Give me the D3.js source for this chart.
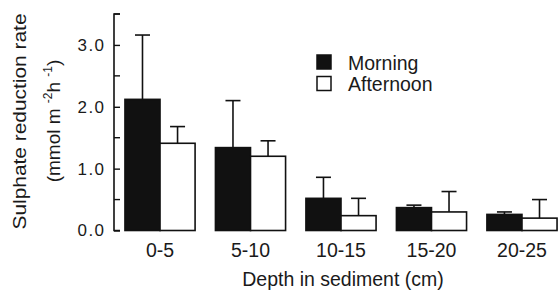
<!DOCTYPE html>
<html lang="en">
<head>
<meta charset="UTF-8">
<title>Sulphate reduction rate</title>
<script src="https://cdn.jsdelivr.net/npm/d3@7"></script>
<style>
	body { margin: 0; background: #fff; }
	text { font-family: Helvetica, Arial, "Liberation Sans", sans-serif; fill: #1a1a1a; }
</style>
</head>
<body>
<div id="chart"></div>
<script>
// depth classes (cm)
var depths = ["0-5", "5-10", "10-15", "15-20", "20-25"];
var seriesNames = ["Morning", "Afternoon"];
// mean rates, mmol m-2 h-1
var morning = [2.12, 1.34, 0.52, 0.37, 0.26];
var afternoon = [1.41, 1.20, 0.24, 0.30, 0.20];
// upper end of the error bars
var morningErr = [3.16, 2.10, 0.86, 0.41, 0.30];
var afternoonErr = [1.68, 1.45, 0.52, 0.63, 0.50];
var yTicks = [0, 1, 2, 3];
var yMinor = [0.5, 1.5, 2.5, 3.5];

var W = 559, H = 290;
var svg = d3.select("#chart").append("svg")
	.attr("width", W)
	.attr("height", H);

var x = d3.scaleBand()
	.domain(depths)
	.range([115, 567])
	.paddingInner(0.225)
	.paddingOuter(0.11);

var xs = d3.scaleBand()
	.domain(seriesNames)
	.range([0, x.bandwidth()]);

var y = d3.scaleLinear()
	.domain([0, 3.5])
	.range([230.5, 14]);

var fills = {"Morning": "#111", "Afternoon": "#fff"};

// table built from the arrays
var rows = [];
depths.forEach(function(d, i){
	rows.push({depth: d, series: "Morning", v: morning[i], e: morningErr[i]});
	rows.push({depth: d, series: "Afternoon", v: afternoon[i], e: afternoonErr[i]});
});

// error bars (only upward part shows)
var cap = 15;
var eb = svg.append("g").attr("stroke", "#111").attr("stroke-width", 1.6);
rows.forEach(function(r){
	var cx = x(r.depth) + xs(r.series) + xs.bandwidth() / 2;
	eb.append("line")
		.attr("x1", cx).attr("x2", cx)
		.attr("y1", y(r.v)).attr("y2", y(r.e));
	eb.append("line")
		.attr("x1", cx - cap / 2).attr("x2", cx + cap / 2)
		.attr("y1", y(r.e)).attr("y2", y(r.e));
});

// bars
svg.append("g").selectAll("rect")
	.data(rows)
	.enter().append("rect")
	.attr("x", function(d){ return x(d.depth) + xs(d.series); })
	.attr("y", function(d){ return y(d.v); })
	.attr("width", xs.bandwidth())
	.attr("height", function(d){ return y(0) - y(d.v); })
	.attr("fill", function(d){ return fills[d.series]; })
	.attr("stroke", "#111")
	.attr("stroke-width", 1.6);

// y axis, ticks pointing inward
var yAxis = svg.append("g")
	.attr("transform", "translate(114,0)")
	.call(d3.axisRight(y).tickValues(yTicks).tickSize(6).tickFormat(""));
yAxis.select(".domain").attr("d", "M6," + y(3.5) + "H0V" + y(0) + "H6").attr("stroke-width", 1.6).attr("stroke", "#111");
yAxis.selectAll(".tick line").attr("stroke-width", 1.4).attr("stroke", "#111");
yMinor.forEach(function(v){
	yAxis.append("line").attr("x1", 0).attr("x2", 6)
		.attr("y1", y(v)).attr("y2", y(v))
		.attr("stroke", "#111").attr("stroke-width", 1.4);
});

svg.append("g").selectAll("text")
	.data(yTicks)
	.enter().append("text")
	.attr("x", 104)
	.attr("y", function(d){ return y(d); })
	.attr("dy", "0.35em")
	.attr("text-anchor", "end")
	.attr("font-size", 17)
	.text(function(d){ return d3.format(".1f")(d); })
	.each(function(){ this.setAttribute("textLength", this.getComputedTextLength() * 1.12); });

// x category labels
svg.append("g").selectAll("text")
	.data(depths)
	.enter().append("text")
	.attr("x", function(d){ return x(d) + x.bandwidth() / 2; })
	.attr("y", 257)
	.attr("text-anchor", "middle")
	.attr("font-size", 19.5)
	.text(function(d){ return d; });

svg.append("text")
	.attr("x", 343)
	.attr("y", 286)
	.attr("text-anchor", "middle")
	.attr("font-size", 19.5)
	.text("Depth in sediment (cm)");

// y title, two lines
svg.append("text")
	.attr("transform", "translate(26,121.5) rotate(-90)")
	.attr("text-anchor", "middle")
	.attr("font-size", 19)
	.attr("textLength", 216)
	.attr("lengthAdjust", "spacingAndGlyphs")
	.text("Sulphate reduction rate");

var yu = svg.append("text")
	.attr("transform", "translate(60,121) rotate(-90)")
	.attr("text-anchor", "middle")
	.attr("font-size", 19);
yu.append("tspan").text("(mmol  m ");
yu.append("tspan").attr("font-size", 12).attr("dy", -8).text("-2");
yu.append("tspan").attr("dy", 8).text("h ");
yu.append("tspan").attr("font-size", 12).attr("dy", -8).text("-1");
yu.append("tspan").attr("dy", 8).text(")");

// legend
var lg = svg.append("g").selectAll("g")
	.data(seriesNames)
	.enter().append("g")
	.attr("transform", function(d, i){ return "translate(317," + (55 + i * 21.5) + ")"; });
lg.append("rect")
	.attr("width", 14).attr("height", 14)
	.attr("fill", function(d){ return fills[d]; })
	.attr("stroke", "#111").attr("stroke-width", 1.5);
lg.append("text")
	.attr("x", 31).attr("y", 14.5)
	.attr("font-size", 19.5)
	.text(function(d){ return d; });
</script>
</body>
</html>
